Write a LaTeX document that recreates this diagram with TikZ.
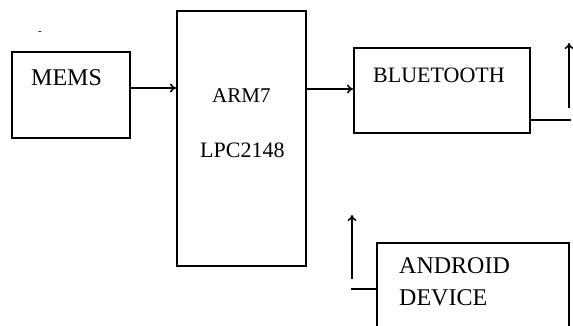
\documentclass[tikz,border=0pt]{standalone}
\usepackage{fontspec}
\setmainfont{Liberation Serif}
\usetikzlibrary{arrows.meta}
\begin{document}
\begin{tikzpicture}[x=1pt,y=-1pt,
  blk/.style={draw, line width=1.7pt, rectangle, inner sep=0pt, anchor=north west},
  lbl/.style={anchor=west, inner sep=0pt, font=\fontsize{22}{26}\selectfont},
  big/.style={font=\fontsize{24}{28}\selectfont},
  conn/.style={line width=1.5pt, -{To[length=6pt,width=9pt]}},
  wire/.style={line width=1.5pt}]
\useasboundingbox (0,0) rectangle (573,326);
\clip (0,0) rectangle (573,326);
% boxes
\node[blk, minimum width=118pt, minimum height=86pt] (mems) at (11,51) {};
\node[blk, minimum width=129pt, minimum height=255pt] (arm) at (176,10) {};
\node[blk, minimum width=176pt, minimum height=85pt] (bt) at (353,47) {};
\node[blk, minimum width=192pt, minimum height=100pt] (and) at (376,242) {};
% texts
\node[lbl, big] (tmems) at (31,78) {MEMS};
\node[lbl, font=\fontsize{21}{25}\selectfont] (tarm) at (212,96) {ARM7};
\node[lbl] (tlpc) at (200,150) {LPC2148};
\node[lbl] (tbt) at (373,75) {BLUETOOTH};
\node[lbl, big] (tand) at (399,266) {ANDROID};
\node[lbl, big] (tdev) at (399,298) {DEVICE};
\node[inner sep=0pt, font=\fontsize{11}{13}\selectfont] (dot) at (40,33) {-};
% connectors
\draw[conn] (mems.east |- 0,88) -- (arm.west |- 0,88);
\draw[conn] (arm.east |- 0,89) -- (bt.west |- 0,89);
\coordinate (btout) at (571,120);
\coordinate (btup1) at (569,108);
\coordinate (btup2) at (569,43);
\draw[wire] (bt.east |- btout) -- (btout);
\draw[conn] (btup1) -- (btup2);
\coordinate (andin) at (351,289);
\coordinate (andup1) at (352,279);
\coordinate (andup2) at (352,215);
\draw[wire] (and.west |- andin) -- (andin);
\draw[conn] (andup1) -- (andup2);
\end{tikzpicture}
\end{document}
